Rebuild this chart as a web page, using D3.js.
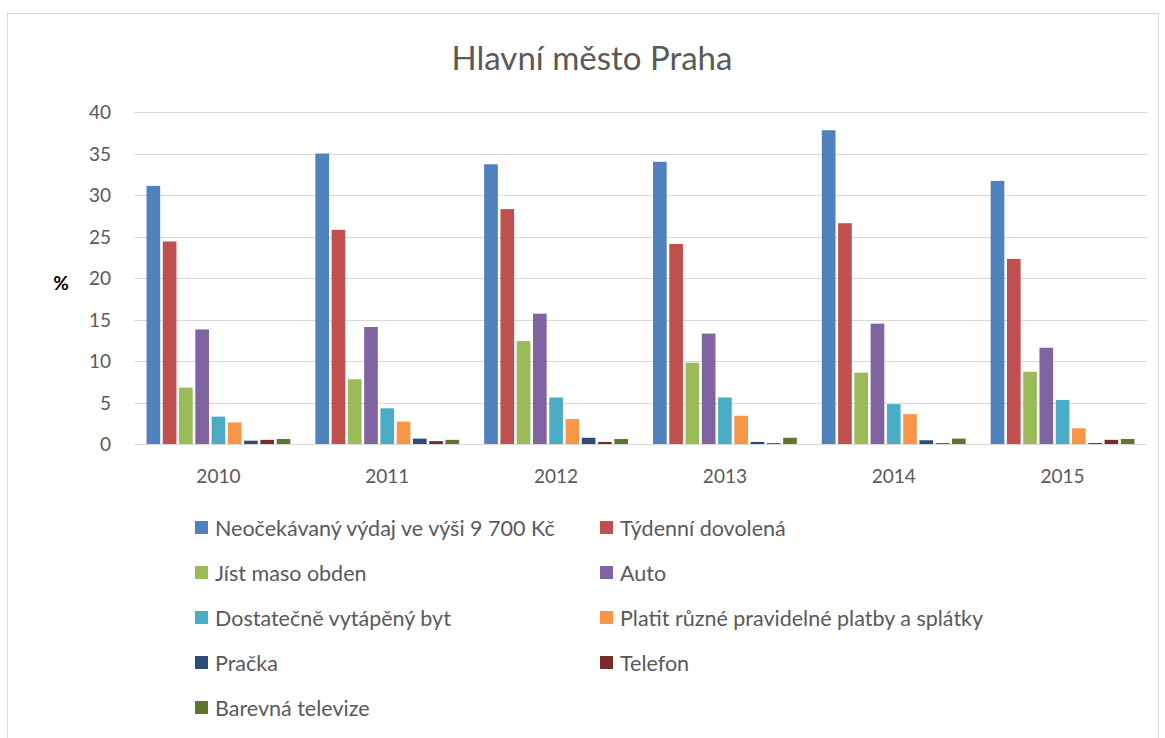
<!DOCTYPE html>
<html>
<head>
<meta charset="utf-8">
<script src="https://cdn.jsdelivr.net/npm/d3@7"></script>
<style>
body{margin:0;background:#fff}
text{font-family:Lato,"Open Sans",sans-serif}
</style>
</head>
<body>
<div id="chart"></div>
<script>

const years = ["2010","2011","2012","2013","2014","2015"]

const series = [
"Neočekávaný výdaj ve výši 9 700 Kč",
"Týdenní dovolená",
"Jíst maso obden",
"Auto",
"Dostatečně vytápěný byt",
"Platit různé pravidelné platby a splátky",
"Pračka",
"Telefon",
"Barevná televize"
]

const colors = ["#4F81BD","#C0504D","#9BBB59","#8064A2","#4BACC6","#F79646","#2C4D75","#772C2A","#5F7530"]

const neocekavany = [31.1, 35.0, 33.7, 34.0, 37.8, 31.7]
const dovolena = [24.4, 25.8, 28.3, 24.1, 26.6, 22.3]
const maso = [6.8, 7.8, 12.4, 9.8, 8.6, 8.7]
const auto = [13.8, 14.1, 15.7, 13.3, 14.5, 11.6]
const vytapeny = [3.3, 4.3, 5.6, 5.6, 4.8, 5.3]
const platby = [2.6, 2.7, 3.0, 3.4, 3.6, 1.9]
const pracka = [0.4, 0.65, 0.75, 0.25, 0.45, 0.12]
const telefon = [0.5, 0.35, 0.25, 0.1, 0.1, 0.5]
const televize = [0.6, 0.5, 0.6, 0.75, 0.65, 0.6]

const values = [neocekavany, dovolena, maso, auto, vytapeny, platby, pracka, telefon, televize]

const yTicks = [0,5,10,15,20,25,30,35,40]

const width = 1165
const height = 738

const svg = d3.select("#chart")
.append("svg")
.attr("width",width)
.attr("height",height)

// outer frame
svg.append("rect")
.attr("x",7.5)
.attr("y",13.5)
.attr("width",1151)
.attr("height",740)
.attr("fill","none")
.attr("stroke","#d9d9d9")

const x0 = d3.scaleBand()
.domain(years)
.range([134,1147])

const x1 = d3.scaleBand()
.domain(series)
.range([12.5, x0.bandwidth()-12.5])
.paddingInner(0.16)

const y = d3.scaleLinear()
.domain([0,40])
.range([444,112])

// gridlines
svg.selectAll(".grid")
.data(yTicks)
.enter()
.append("line")
.attr("x1",134)
.attr("x2",1147)
.attr("y1",d=>Math.round(y(d))+0.5)
.attr("y2",d=>Math.round(y(d))+0.5)
.attr("stroke","#d9d9d9")
.attr("stroke-width",1)

// y labels
svg.selectAll(".ylab")
.data(yTicks)
.enter()
.append("text")
.attr("x",111)
.attr("y",d=>y(d)+7)
.attr("text-anchor","end")
.attr("font-size","19px")
.attr("fill","#595959")
.text(d=>d)

// bars
const groups = svg.selectAll(".year")
.data(years)
.enter()
.append("g")
.attr("transform",d=>`translate(${x0(d)},0)`)

groups.selectAll("rect")
.data((d,i)=>series.map((s,j)=>({s:s, v:values[j][i], c:colors[j]})))
.enter()
.append("rect")
.attr("x",d=>x1(d.s))
.attr("width",x1.bandwidth())
.attr("y",d=>y(d.v))
.attr("height",d=>y(0)-y(d.v))
.attr("fill",d=>d.c)

// baseline
svg.append("line")
.attr("x1",134)
.attr("x2",1147)
.attr("y1",444.5)
.attr("y2",444.5)
.attr("stroke","#d9d9d9")

// x labels
svg.selectAll(".xlab")
.data(years)
.enter()
.append("text")
.attr("x",d=>x0(d)+x0.bandwidth()/2)
.attr("y",483)
.attr("text-anchor","middle")
.attr("font-size","19px")
.attr("fill","#595959")
.text(d=>d)

// title
svg.append("text")
.attr("x",592)
.attr("y",70)
.attr("text-anchor","middle")
.attr("font-size","33px")
.attr("fill","#595959")
.text("Hlavní město Praha")

// % label
svg.append("text")
.attr("x",61)
.attr("y",290)
.attr("text-anchor","middle")
.attr("font-size","19px")
.attr("font-weight","bold")
.attr("fill","#000")
.text("%")

// legend
const legend = svg.selectAll(".leg")
.data(series)
.enter()
.append("g")
.attr("transform",(d,i)=>`translate(${i%2===0?195:600},${528+Math.floor(i/2)*45})`)

legend.append("rect")
.attr("x",0)
.attr("y",-7)
.attr("width",13)
.attr("height",13)
.attr("fill",(d,i)=>colors[i])

legend.append("text")
.attr("x",20)
.attr("y",8)
.attr("font-size","21.5px")
.attr("fill","#595959")
.text(d=>d)

</script>
</body>
</html>
